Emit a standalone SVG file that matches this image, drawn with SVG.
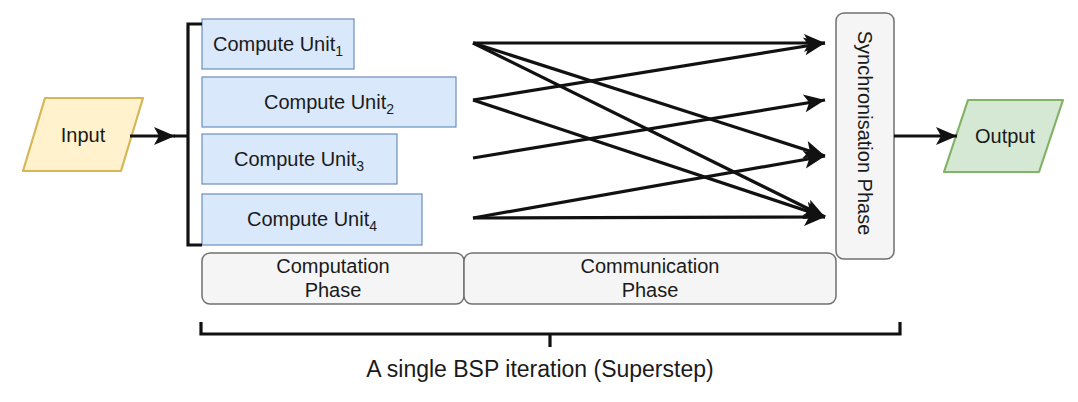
<svg xmlns="http://www.w3.org/2000/svg" width="1078" height="402" viewBox="0 0 1078 402">
<defs>
<style>
text{font-family:"Liberation Sans",Arial,Helvetica,sans-serif;fill:#1a1a1a;}
.lbl{font-size:20px;text-anchor:middle;}
.sub{font-size:14px;}
.cu{fill:#dae8fc;stroke:#6c8ebf;stroke-width:1.2;}
.ph{fill:#f5f5f5;stroke:#707070;stroke-width:1.5;}
.edge{stroke:#111;stroke-width:3.2;fill:none;marker-end:url(#arr);}
.br{stroke:#111;stroke-width:3.2;fill:none;}
</style>
<marker id="arr" markerUnits="userSpaceOnUse" markerWidth="24" markerHeight="20" refX="21" refY="9" orient="auto" overflow="visible">
<path d="M0,0 L21,9 L0,18 L5,9 Z" fill="#111"/>
</marker>
</defs>
<rect width="1078" height="402" fill="#ffffff"/>

<g id="input">
<path d="M45,98 L143,98 L121,171 L23,171 Z" fill="#fff2cc" stroke="#d6b656" stroke-width="2.2" stroke-linejoin="round"/>
<text class="lbl" x="83" y="142">Input</text>
</g>

<g id="compute-unit-1">
<rect class="cu" x="202" y="19" width="152" height="50"/>
<text class="lbl" x="278" y="51">Compute Unit<tspan class="sub" dy="5">1</tspan></text>
</g>
<g id="compute-unit-2">
<rect class="cu" x="202" y="77" width="254" height="50"/>
<text class="lbl" x="329" y="109">Compute Unit<tspan class="sub" dy="5">2</tspan></text>
</g>
<g id="compute-unit-3">
<rect class="cu" x="202" y="134" width="195" height="50"/>
<text class="lbl" x="299" y="166">Compute Unit<tspan class="sub" dy="5">3</tspan></text>
</g>
<g id="compute-unit-4">
<rect class="cu" x="202" y="194" width="220" height="51"/>
<text class="lbl" x="312" y="226">Compute Unit<tspan class="sub" dy="5">4</tspan></text>
</g>

<g id="sync-phase">
<rect class="ph" x="836" y="13" width="58" height="246" rx="8"/>
<text class="lbl" transform="translate(858,133) rotate(90)" x="0" y="0">Synchronisation Phase</text>
</g>

<g id="output">
<path d="M968,100 L1063,100 L1039,172 L944,172 Z" fill="#d5e8d4" stroke="#82b366" stroke-width="2.2" stroke-linejoin="round"/>
<text class="lbl" x="1005" y="143">Output</text>
</g>

<g id="computation-phase">
<rect class="ph" x="202" y="253" width="262" height="51" rx="8"/>
<text class="lbl" x="333" y="273">Computation</text>
<text class="lbl" x="333" y="297">Phase</text>
</g>
<g id="communication-phase">
<rect class="ph" x="464" y="253" width="372" height="51" rx="8"/>
<text class="lbl" x="650" y="273">Communication</text>
<text class="lbl" x="650" y="297">Phase</text>
</g>

<g id="superstep">
<path class="br" d="M201,322 V334 H900 V322"/>
<path class="br" d="M550,334 V347"/>
<text x="540" y="377" style="font-size:23px;text-anchor:middle;">A single BSP iteration (Superstep)</text>
</g>

<g id="connectors">
<line class="edge" x1="130" y1="136" x2="175" y2="136"/>
<path class="br" d="M174,136 H188 M202,24 H188 V245 H202"/>
<line class="edge" x1="473" y1="43" x2="825" y2="43"/>
<line class="edge" x1="473" y1="43" x2="825" y2="156"/>
<line class="edge" x1="473" y1="43" x2="825" y2="217"/>
<line class="edge" x1="473" y1="100" x2="825" y2="43"/>
<line class="edge" x1="473" y1="100" x2="825" y2="217"/>
<line class="edge" x1="473" y1="158" x2="825" y2="100"/>
<line class="edge" x1="473" y1="218" x2="825" y2="156"/>
<line class="edge" x1="473" y1="218" x2="825" y2="217"/>
<line class="edge" x1="894" y1="136" x2="957" y2="136"/>
</g>
</svg>
